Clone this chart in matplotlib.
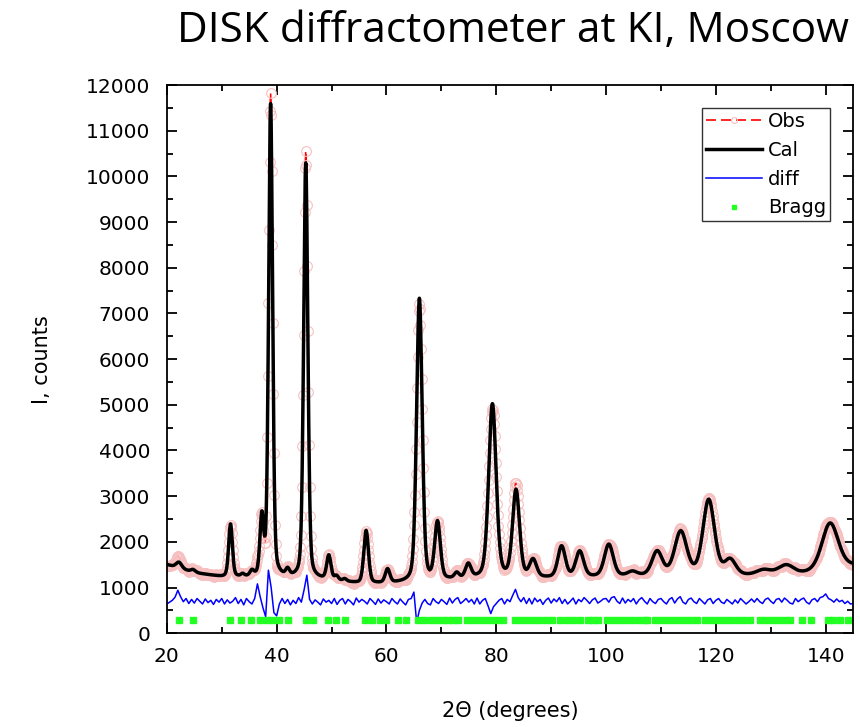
import numpy as np
import matplotlib
matplotlib.use("Agg")
import matplotlib.pyplot as plt
from matplotlib.ticker import MultipleLocator

# peak table: position (2theta), height above background, FWHM
peak_pos = [22.2, 24.8, 31.6, 33.8, 35.5, 37.3, 38.9, 42.0, 45.3, 49.5, 50.9, 52.4,
            56.3, 60.2, 66.0, 69.3, 72.8, 74.9, 79.3, 83.6, 86.7, 91.9, 95.2, 100.5,
            104.8, 109.3, 113.6, 118.7, 122.6, 128.7, 132.8, 140.8]
peak_height = [130, 60, 1150, 50, 110, 1250, 10350, 140, 9100, 520, 90, 50,
               1150, 300, 6200, 1250, 120, 300, 3800, 1900, 380, 680, 560, 700,
               90, 520, 950, 1650, 330, 110, 210, 1020]
peak_fwhm = [1.2, 1.0, 0.8, 0.7, 0.8, 0.8, 0.85, 0.8, 0.9, 0.9, 0.8, 0.8,
             1.0, 1.0, 1.2, 1.2, 1.0, 1.2, 1.6, 1.5, 1.5, 1.6, 1.7, 1.9,
             2.0, 2.2, 2.6, 2.5, 2.4, 3.0, 3.5, 3.5]

# background level read at a few angles
bg_x = [20, 25, 30, 40, 50, 55, 60, 65, 70, 75, 80, 90, 100, 110, 125, 135, 145]
bg_y = [1500, 1320, 1230, 1200, 1150, 1080, 1080, 1100, 1150, 1180, 1200, 1200, 1230, 1250, 1250, 1270, 1470]

# difference curve (Obs - Cal, offset), every 0.5 degree from 20 to 145
diff_y = [
    640, 680, 720, 790, 940, 800, 690, 760, 650, 740, 660, 760, 700, 640, 750, 670, 720, 630, 740, 680,
    760, 640, 730, 660, 700, 780, 650, 740, 620, 760, 690, 640, 760, 1080, 800, 560, 360, 1380, 1000, 450,
    380, 640, 760, 650, 740, 620, 720, 650, 780, 680, 950, 1270, 740, 640, 730, 680, 620, 750, 680, 720,
    650, 760, 630, 720, 760, 640, 740, 690, 620, 770, 680, 740, 700, 640, 760, 700, 630, 750, 660, 730,
    690, 640, 760, 690, 640, 750, 680, 620, 740, 760, 900, 240, 500, 660, 740, 650, 620, 760, 690, 650,
    740, 690, 630, 770, 660, 740, 780, 650, 700, 760, 680, 740, 640, 770, 640, 720, 760, 600, 430, 580,
    650, 720, 760, 640, 740, 690, 830, 960, 780, 690, 780, 650, 760, 640, 770, 690, 740, 630, 720, 770,
    660, 750, 690, 780, 650, 740, 640, 700, 770, 640, 740, 690, 780, 720, 650, 730, 770, 660, 700, 750,
    760, 680, 780, 800, 700, 650, 770, 660, 740, 690, 760, 640, 730, 780, 700, 640, 760, 690, 650, 740,
    760, 690, 640, 740, 780, 660, 750, 800, 680, 640, 740, 770, 690, 650, 760, 700, 640, 730, 760, 650,
    720, 760, 680, 650, 740, 690, 640, 730, 660, 760, 700, 640, 690, 750, 680, 760, 690, 650, 740, 770,
    700, 650, 740, 760, 680, 770, 720, 660, 640, 760, 690, 740, 770, 680, 640, 730, 760, 690, 780, 800,
    860, 760, 730, 680, 750, 690, 720, 650, 700, 640, 650]
diff_x = np.arange(20, 145.01, 0.5)
diff_offset = 700

# Bragg reflection positions
bragg_pos = [22.2, 24.8, 31.5, 33.5, 35.3, 36.9, 38.3, 39.4, 40.4, 42.1, 45.3, 46.6,
             49.4, 50.9, 52.4, 56.1, 57.4, 58.8, 60.0, 62.1, 63.5,
             65.8, 66.9, 68.1, 69.2, 70.3, 71.3, 72.2, 73.1,
             74.6, 75.7, 76.8, 77.9, 79.0, 80.2, 81.3,
             83.4, 84.5, 85.6, 86.7, 87.8, 89.0, 90.1,
             91.6, 92.8, 94.0, 95.2, 96.7, 97.6, 98.5,
             100.1, 101.2, 102.3, 103.5, 104.6, 105.8, 106.9, 107.4,
             108.9, 110.0, 111.1, 112.2, 113.3, 114.4, 115.5, 116.5,
             118.1, 119.2, 120.3, 121.5, 122.6, 123.8, 125.0, 126.3,
             128.1, 129.2, 130.3, 131.4, 132.5, 133.5,
             135.6, 137.4, 140.4, 141.3, 142.6, 144.1]
bragg_level = 280

x = np.arange(20, 145.001, 0.05)
cal = np.interp(x, bg_x, bg_y)
for p, h, w in zip(peak_pos, peak_height, peak_fwhm):
    g = np.exp(-4 * np.log(2) * ((x - p) / w) ** 2)
    l = 1 / (1 + 4 * ((x - p) / w) ** 2)
    cal = cal + h * (0.7 * g + 0.3 * l)

xo = np.arange(20, 145.001, 0.1)
obs = np.interp(xo, x, cal) + 0.6 * (np.interp(xo, diff_x, diff_y) - diff_offset)

fig = plt.figure(figsize=(8.6, 7.27), dpi=100)
ax = fig.add_axes([0.194, 0.129, 0.798, 0.754])

ax.plot(xo, obs, color='red', ls=(0, (6, 3)), lw=1.2, marker='o', ms=7,
        mfc='none', mec='#f7c0c0', mew=0.8, label='Obs')
ax.plot(x, cal, color='black', lw=2.5, label='Cal')
ax.plot(diff_x, diff_y, color='#0000ff', lw=1.1, label='diff')
ax.plot(bragg_pos, [bragg_level] * len(bragg_pos), ls='none', marker='s',
        ms=4.5, color='#22ff22', label='Bragg')

ax.set_xlim(20, 145)
ax.set_ylim(0, 12000)
ax.xaxis.set_major_locator(MultipleLocator(20))
ax.xaxis.set_minor_locator(MultipleLocator(10))
ax.yaxis.set_major_locator(MultipleLocator(1000))
ax.yaxis.set_minor_locator(MultipleLocator(500))
ax.tick_params(which='both', direction='in', top=True, right=True, width=1.3, labelsize=14.5)
ax.tick_params(which='major', length=7)
ax.tick_params(which='minor', length=4)
ax.tick_params(axis='x', pad=10)
ax.tick_params(axis='y', pad=12)
for s in ax.spines.values():
    s.set_linewidth(1.3)

ax.set_ylabel('I, counts', fontsize=15, labelpad=24)
ax.set_xlabel('2\u0398 (degrees)', fontsize=15, labelpad=25)

leg = ax.legend(loc='upper right', fontsize=14, fancybox=False, edgecolor='black',
                handlelength=2.9, handletextpad=0.3, borderpad=0.2, labelspacing=0.5,
                borderaxespad=1.2, markerscale=0.6)
leg.get_frame().set_linewidth(1.0)

fig.text(0.597, 0.958, 'DISK diffractometer at KI, Moscow', fontsize=30.5,
         family='Open Sans', ha='center', va='center')

fig.savefig('out.png', dpi=100)
